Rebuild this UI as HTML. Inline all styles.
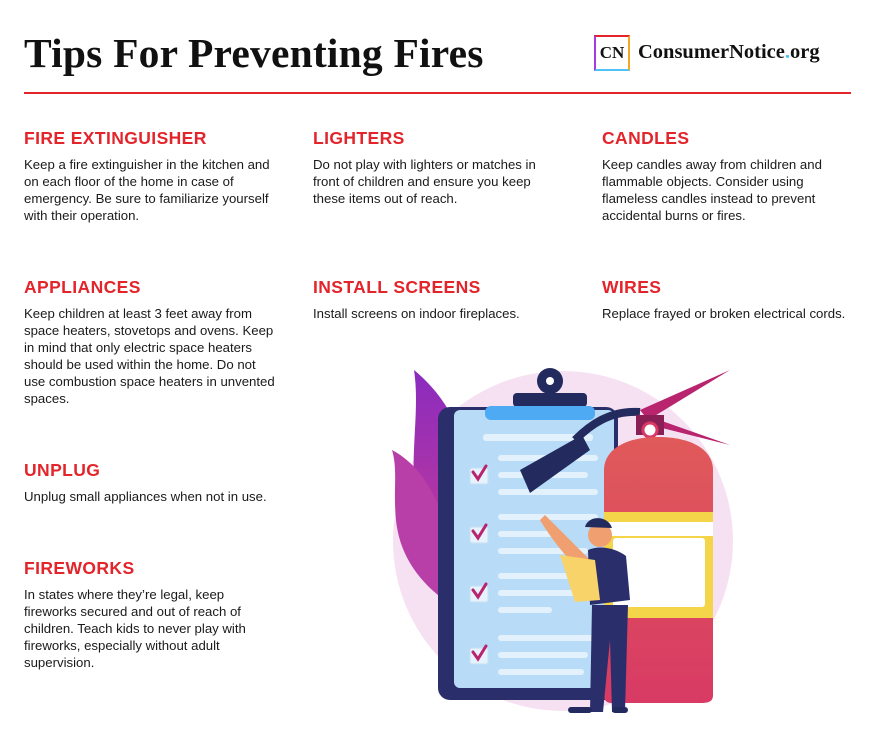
<!DOCTYPE html>
<html><head><meta charset="utf-8"><style>
body{margin:0;width:875px;height:756px;background:#fff;position:relative;overflow:hidden;font-family:"Liberation Sans",sans-serif;color:#1a1a1a}
.abs{position:absolute}
h1{position:absolute;left:24px;top:29px;margin:0;font-family:"Liberation Serif",serif;font-weight:bold;font-size:41.5px;letter-spacing:0.2px;color:#111}
.rule{position:absolute;left:24px;top:92px;width:827px;height:2px;background:#e3242b}
.tip{position:absolute;width:265px;white-space:nowrap}
.tip h2{margin:0 0 8px 0;font-size:17.5px;font-weight:bold;color:#e3242b;letter-spacing:0.4px;line-height:20px}
.tip p{margin:0;font-size:13.2px;line-height:17px;color:#1a1a1a}
</style></head><body>
<h1>Tips For Preventing Fires</h1>
<div class="abs" style="left:594px;top:35px;height:40px;">
  <div class="abs" style="left:0;top:0;width:32px;height:32px;border-top:2px solid #e3242b;border-right:2px solid #f5a623;border-bottom:2px solid #4fc3f7;border-left:2px solid #a23be0;font-family:'Liberation Serif',serif;font-weight:bold;font-size:17px;line-height:32px;text-align:center;color:#111">CN</div>
  <div class="abs" style="left:44px;top:6px;white-space:nowrap;font-family:'Liberation Serif',serif;font-weight:bold;font-size:20.5px;color:#111">ConsumerNotice<span style="color:#4fc3f7">.</span>org</div>
</div>
<div class="rule"></div>

<div class="tip" style="left:24px;top:128px"><h2>FIRE EXTINGUISHER</h2><p>Keep a fire extinguisher in the kitchen and<br>on each floor of the home in case of<br>emergency. Be sure to familiarize yourself<br>with their operation.</p></div>
<div class="tip" style="left:313px;top:128px"><h2>LIGHTERS</h2><p>Do not play with lighters or matches in<br>front of children and ensure you keep<br>these items out of reach.</p></div>
<div class="tip" style="left:602px;top:128px;width:250px"><h2>CANDLES</h2><p>Keep candles away from children and<br>flammable objects. Consider using<br>flameless candles instead to prevent<br>accidental burns or fires.</p></div>
<div class="tip" style="left:24px;top:277px;width:260px"><h2>APPLIANCES</h2><p>Keep children at least 3 feet away from<br>space heaters, stovetops and ovens. Keep<br>in mind that only electric space heaters<br>should be used within the home. Do not<br>use combustion space heaters in unvented<br>spaces.</p></div>
<div class="tip" style="left:313px;top:277px"><h2>INSTALL SCREENS</h2><p>Install screens on indoor fireplaces.</p></div>
<div class="tip" style="left:602px;top:277px;width:260px"><h2>WIRES</h2><p>Replace frayed or broken electrical cords.</p></div>
<div class="tip" style="left:24px;top:460px"><h2>UNPLUG</h2><p>Unplug small appliances when not in use.</p></div>
<div class="tip" style="left:24px;top:558px;width:250px"><h2>FIREWORKS</h2><p>In states where they’re legal, keep<br>fireworks secured and out of reach of<br>children. Teach kids to never play with<br>fireworks, especially without adult<br>supervision.</p></div>

<svg class="abs" style="left:0;top:0" width="875" height="756">
  <defs>
    <linearGradient id="fl" x1="0" y1="0" x2="0" y2="1"><stop offset="0" stop-color="#8a2bbf"/><stop offset="1" stop-color="#d43f8c"/></linearGradient>
    <linearGradient id="ext" x1="0" y1="0" x2="0" y2="1"><stop offset="0" stop-color="#e05a5a"/><stop offset="1" stop-color="#d83a64"/></linearGradient>
  </defs>
  <circle cx="563" cy="541" r="170" fill="#f6e1f3"/>
  <path d="M414,370 C450,400 470,440 470,500 L470,620 C440,600 420,560 415,500 C410,450 420,410 414,370Z" fill="url(#fl)"/>
  <path d="M392,450 C430,470 450,520 455,580 L460,610 C425,590 400,560 396,520 C393,490 398,470 392,450Z" fill="#b83ea8"/>
  <rect x="438" y="407" width="180" height="293" rx="12" fill="#2a2f6b"/>
  <rect x="454" y="410" width="160" height="278" rx="6" fill="#b8dcf7"/>
  <rect x="513" y="393" width="74" height="14" rx="4" fill="#232a5e"/>
  <circle cx="550" cy="381" r="13" fill="#232a5e"/>
  <circle cx="550" cy="381" r="4" fill="#fff"/>
  <rect x="485" y="406" width="110" height="14" rx="6" fill="#4eaaf2"/>
  <g fill="#e3f1fc">
    <rect x="483" y="434" width="110" height="7" rx="3"/>
    <rect x="498" y="455" width="100" height="6" rx="3"/><rect x="498" y="472" width="90" height="6" rx="3"/><rect x="498" y="489" width="100" height="6" rx="3"/>
    <rect x="498" y="514" width="100" height="6" rx="3"/><rect x="498" y="531" width="62" height="6" rx="3"/><rect x="498" y="548" width="90" height="6" rx="3"/>
    <rect x="498" y="573" width="100" height="6" rx="3"/><rect x="498" y="590" width="90" height="6" rx="3"/><rect x="498" y="607" width="54" height="6" rx="3"/>
    <rect x="498" y="635" width="100" height="6" rx="3"/><rect x="498" y="652" width="90" height="6" rx="3"/><rect x="498" y="669" width="86" height="6" rx="3"/>
  </g>
  <g fill="#e6f2fc" stroke="#c7dff3">
    <rect x="470" y="468" width="18" height="16" rx="2"/><rect x="470" y="527" width="18" height="16" rx="2"/><rect x="470" y="586" width="18" height="16" rx="2"/><rect x="470" y="648" width="18" height="16" rx="2"/>
  </g>
  <g stroke="#b8246e" stroke-width="3" fill="none" stroke-linecap="round">
    <path d="M473,472 l5,7 l8,-13"/><path d="M473,531 l5,7 l8,-13"/><path d="M473,590 l5,7 l8,-13"/><path d="M473,652 l5,7 l8,-13"/>
  </g>
  <path d="M640,412 C610,410 590,425 575,440" stroke="#232a5e" stroke-width="8" fill="none"/>
  <path d="M582,435 L520,470 L530,493 L590,450Z" fill="#232a5e"/>
  <path d="M640,410 L730,370 L648,420Z M645,415 L730,445 L650,425Z" fill="#b8246e"/>
  <rect x="636" y="415" width="28" height="20" fill="#8a1f55"/>
  <circle cx="650" cy="430" r="7" fill="#fff" stroke="#d83a64" stroke-width="3"/>
  <path d="M604,470 C604,450 625,437 658,437 C692,437 713,450 713,470 L713,695 C713,702 708,703 700,703 L612,703 C606,703 604,700 604,695Z" fill="url(#ext)"/>
  <rect x="604" y="512" width="109" height="106" fill="#f4d54a"/>
  <rect x="604" y="522" width="109" height="14" fill="#fff"/>
  <rect x="613" y="538" width="92" height="69" rx="3" fill="#fff"/>
  <g>
    <path d="M590,560 C575,545 560,530 545,515 L540,520 C552,540 568,560 585,575Z" fill="#f0a070"/>
    <circle cx="600" cy="535" r="12" fill="#f0a070"/>
    <path d="M585,527 C588,515 608,515 612,528Z" fill="#232a5e"/>
    <path d="M588,550 C600,545 615,548 626,556 L630,600 L590,605Z" fill="#2a2f6b"/>
    <path d="M560,555 L595,560 L600,600 L575,602Z" fill="#f7d36a"/>
    <path d="M592,605 L628,605 L625,712 L612,712 L610,640 L603,712 L590,712Z" fill="#2a2f6b"/>
    <rect x="568" y="707" width="24" height="6" rx="3" fill="#232a5e"/><rect x="612" y="707" width="16" height="6" rx="3" fill="#232a5e"/>
  </g>
</svg>
</body></html>
